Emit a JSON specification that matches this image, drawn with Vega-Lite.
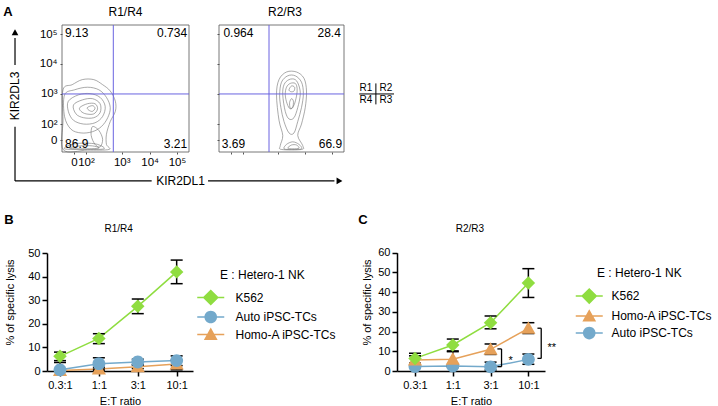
{
"$schema":"https://vega.github.io/schema/vega-lite/v6.json",
"width":718,"height":406,"padding":0,"autosize":{"type":"none"},"background":"#ffffff",
"config":{"view":{"stroke":null},"font":"Liberation Sans",
 "axis":{"grid":false,"labelFont":"Liberation Sans","titleFont":"Liberation Sans","labelColor":"#000000","titleColor":"#000000","domainColor":"#000000","tickColor":"#000000","labelFontSize":11,"titleFontSize":11,"titleFontWeight":"normal","labelFlush":false,"labelOverlap":false},
 "legend":{"labelFont":"Liberation Sans","titleFont":"Liberation Sans","labelColor":"#000000","titleColor":"#000000"},
 "text":{"font":"Liberation Sans","fontSize":11,"color":"#000000"}},
"datasets":{
 "contour1":[
  {"ring":"a","i":0,"x":0.8,"y":49},{"ring":"a","i":1,"x":8,"y":53},{"ring":"a","i":2,"x":16,"y":57},{"ring":"a","i":3,"x":25,"y":57},{"ring":"a","i":4,"x":32,"y":53},{"ring":"a","i":5,"x":38,"y":48},{"ring":"a","i":6,"x":42,"y":40},{"ring":"a","i":7,"x":42,"y":32},{"ring":"a","i":8,"x":38,"y":24},{"ring":"a","i":9,"x":35,"y":14},{"ring":"a","i":10,"x":35,"y":6},{"ring":"a","i":11,"x":37,"y":2},{"ring":"a","i":12,"x":20,"y":1.5},{"ring":"a","i":13,"x":1,"y":1.8},{"ring":"a","i":14,"x":0.8,"y":25},
  {"ring":"b","i":0,"x":2,"y":45},{"ring":"b","i":1,"x":10,"y":49},{"ring":"b","i":2,"x":20,"y":51},{"ring":"b","i":3,"x":29,"y":49},{"ring":"b","i":4,"x":35,"y":43},{"ring":"b","i":5,"x":38,"y":35},{"ring":"b","i":6,"x":36,"y":27},{"ring":"b","i":7,"x":31,"y":20},{"ring":"b","i":8,"x":24,"y":16},{"ring":"b","i":9,"x":15,"y":15},{"ring":"b","i":10,"x":7,"y":18},{"ring":"b","i":11,"x":2,"y":28},
  {"ring":"c","i":0,"x":5,"y":40},{"ring":"c","i":1,"x":13,"y":45},{"ring":"c","i":2,"x":22,"y":46},{"ring":"c","i":3,"x":30,"y":43},{"ring":"c","i":4,"x":34,"y":36},{"ring":"c","i":5,"x":32,"y":28},{"ring":"c","i":6,"x":26,"y":23},{"ring":"c","i":7,"x":17,"y":22},{"ring":"c","i":8,"x":9,"y":25},{"ring":"c","i":9,"x":5,"y":32},
  {"ring":"d","i":0,"x":9,"y":37},{"ring":"d","i":1,"x":16,"y":41},{"ring":"d","i":2,"x":24,"y":42},{"ring":"d","i":3,"x":30,"y":38},{"ring":"d","i":4,"x":30,"y":31},{"ring":"d","i":5,"x":25,"y":27},{"ring":"d","i":6,"x":17,"y":27},{"ring":"d","i":7,"x":11,"y":30},
  {"ring":"e","i":0,"x":14,"y":35},{"ring":"e","i":1,"x":20,"y":38},{"ring":"e","i":2,"x":26,"y":38},{"ring":"e","i":3,"x":28,"y":34},{"ring":"e","i":4,"x":25,"y":30},{"ring":"e","i":5,"x":19,"y":30},{"ring":"e","i":6,"x":15,"y":32},
  {"ring":"f","i":0,"x":20,"y":35},{"ring":"f","i":1,"x":24,"y":36.5},{"ring":"f","i":2,"x":26,"y":34.5},{"ring":"f","i":3,"x":24,"y":32},{"ring":"f","i":4,"x":21,"y":33},
  {"ring":"g","i":0,"x":24,"y":20},{"ring":"g","i":1,"x":29,"y":17},{"ring":"g","i":2,"x":32,"y":10},{"ring":"g","i":3,"x":30,"y":4},{"ring":"g","i":4,"x":26,"y":6},{"ring":"g","i":5,"x":23,"y":13},
  {"ring":"h","i":0,"x":2,"y":2.5},{"ring":"h","i":1,"x":8,"y":6},{"ring":"h","i":2,"x":18,"y":7},{"ring":"h","i":3,"x":28,"y":6},{"ring":"h","i":4,"x":33,"y":2.5},{"ring":"h","i":5,"x":18,"y":2},
  {"ring":"k","i":0,"x":6,"y":3},{"ring":"k","i":1,"x":14,"y":4.8},{"ring":"k","i":2,"x":24,"y":4.8},{"ring":"k","i":3,"x":29,"y":3},{"ring":"k","i":4,"x":16,"y":2.5}],
 "contour2":[
  {"ring":"a","i":0,"x":46,"y":45},{"ring":"a","i":1,"x":48,"y":57},{"ring":"a","i":2,"x":54,"y":63},{"ring":"a","i":3,"x":62,"y":63},{"ring":"a","i":4,"x":68,"y":58},{"ring":"a","i":5,"x":70,"y":48},{"ring":"a","i":6,"x":69,"y":35},{"ring":"a","i":7,"x":66,"y":22},{"ring":"a","i":8,"x":63,"y":13},{"ring":"a","i":9,"x":67,"y":5},{"ring":"a","i":10,"x":66,"y":2},{"ring":"a","i":11,"x":50,"y":2},{"ring":"a","i":12,"x":49,"y":5},{"ring":"a","i":13,"x":51,"y":13},{"ring":"a","i":14,"x":48,"y":25},
  {"ring":"b","i":0,"x":48.5,"y":45},{"ring":"b","i":1,"x":50,"y":55},{"ring":"b","i":2,"x":55,"y":60},{"ring":"b","i":3,"x":61,"y":60},{"ring":"b","i":4,"x":66,"y":55},{"ring":"b","i":5,"x":67.5,"y":46},{"ring":"b","i":6,"x":66,"y":35},{"ring":"b","i":7,"x":63,"y":24},{"ring":"b","i":8,"x":60,"y":15},{"ring":"b","i":9,"x":56,"y":15},{"ring":"b","i":10,"x":52,"y":24},{"ring":"b","i":11,"x":49.5,"y":35},
  {"ring":"c","i":0,"x":51,"y":45},{"ring":"c","i":1,"x":52,"y":53},{"ring":"c","i":2,"x":56,"y":57},{"ring":"c","i":3,"x":61,"y":57},{"ring":"c","i":4,"x":64,"y":52},{"ring":"c","i":5,"x":65,"y":45},{"ring":"c","i":6,"x":63,"y":35},{"ring":"c","i":7,"x":60,"y":27},{"ring":"c","i":8,"x":56,"y":26},{"ring":"c","i":9,"x":53,"y":32},
  {"ring":"d","i":0,"x":53,"y":45},{"ring":"d","i":1,"x":54,"y":51},{"ring":"d","i":2,"x":57,"y":54},{"ring":"d","i":3,"x":61,"y":54},{"ring":"d","i":4,"x":62.5,"y":50},{"ring":"d","i":5,"x":62,"y":44},{"ring":"d","i":6,"x":60,"y":37},{"ring":"d","i":7,"x":57,"y":34},{"ring":"d","i":8,"x":54.5,"y":38},
  {"ring":"e","i":0,"x":56,"y":49},{"ring":"e","i":1,"x":58,"y":52},{"ring":"e","i":2,"x":60.5,"y":51},{"ring":"e","i":3,"x":60,"y":48},{"ring":"e","i":4,"x":57.5,"y":47.5},
  {"ring":"f","i":0,"x":56.5,"y":39},{"ring":"f","i":1,"x":58,"y":42},{"ring":"f","i":2,"x":59.5,"y":40},{"ring":"f","i":3,"x":59,"y":35},{"ring":"f","i":4,"x":57,"y":34.5},
  {"ring":"g","i":0,"x":52,"y":2.5},{"ring":"g","i":1,"x":54,"y":6},{"ring":"g","i":2,"x":59,"y":8},{"ring":"g","i":3,"x":64,"y":6},{"ring":"g","i":4,"x":66,"y":2.5},{"ring":"g","i":5,"x":58,"y":2},
  {"ring":"h","i":0,"x":55,"y":3},{"ring":"h","i":1,"x":58,"y":5.5},{"ring":"h","i":2,"x":62,"y":5.5},{"ring":"h","i":3,"x":64,"y":3},{"ring":"h","i":4,"x":59,"y":2.5}],
 "gate1":[{"xg":40.4,"yg":45.7}],
 "gate2":[{"xg":40.0,"yg":45.7}],
 "quad1":[{"pct":"9.13","x":2.4,"y":93.5},{"pct":"0.734","x":98.5,"y":93.5},{"pct":"86.9","x":2.4,"y":6.3},{"pct":"3.21","x":98.5,"y":6.3}],
 "quad2":[{"pct":"0.964","x":3.5,"y":94},{"pct":"28.4","x":97.5,"y":94},{"pct":"3.69","x":2.2,"y":6.3},{"pct":"66.9","x":98.5,"y":6.3}],
 "lysB":[
  {"target":"Homo-A iPSC-TCs","ratio":"0.3:1","idx":0,"mean":0.2,"lo":0,"hi":0.8},
  {"target":"Homo-A iPSC-TCs","ratio":"1:1","idx":1,"mean":0.8,"lo":0.1,"hi":1.6},
  {"target":"Homo-A iPSC-TCs","ratio":"3:1","idx":2,"mean":1.8,"lo":1.0,"hi":2.6},
  {"target":"Homo-A iPSC-TCs","ratio":"10:1","idx":3,"mean":3.0,"lo":0.5,"hi":4.6},
  {"target":"Auto iPSC-TCs","ratio":"0.3:1","idx":0,"mean":0.5,"lo":0,"hi":3.6},
  {"target":"Auto iPSC-TCs","ratio":"1:1","idx":1,"mean":3.1,"lo":0.8,"hi":5.6},
  {"target":"Auto iPSC-TCs","ratio":"3:1","idx":2,"mean":3.8,"lo":2.6,"hi":5.0},
  {"target":"Auto iPSC-TCs","ratio":"10:1","idx":3,"mean":4.4,"lo":2.3,"hi":6.4},
  {"target":"K562","ratio":"0.3:1","idx":0,"mean":6.2,"lo":4.4,"hi":8.0},
  {"target":"K562","ratio":"1:1","idx":1,"mean":13.8,"lo":11.6,"hi":15.8},
  {"target":"K562","ratio":"3:1","idx":2,"mean":27.4,"lo":24.3,"hi":30.5},
  {"target":"K562","ratio":"10:1","idx":3,"mean":42.0,"lo":37.0,"hi":47.0}],
 "lysC":[
  {"target":"Auto iPSC-TCs","ratio":"0.3:1","idx":0,"mean":2.3,"lo":1.5,"hi":3.0},
  {"target":"Auto iPSC-TCs","ratio":"1:1","idx":1,"mean":2.5,"lo":1.8,"hi":3.2},
  {"target":"Auto iPSC-TCs","ratio":"3:1","idx":2,"mean":2.1,"lo":0.5,"hi":4.5},
  {"target":"Auto iPSC-TCs","ratio":"10:1","idx":3,"mean":5.9,"lo":3.4,"hi":8.6},
  {"target":"Homo-A iPSC-TCs","ratio":"0.3:1","idx":0,"mean":5.6,"lo":3.5,"hi":7.7},
  {"target":"Homo-A iPSC-TCs","ratio":"1:1","idx":1,"mean":6.0,"lo":2.5,"hi":9.8},
  {"target":"Homo-A iPSC-TCs","ratio":"3:1","idx":2,"mean":11.0,"lo":8.4,"hi":13.7},
  {"target":"Homo-A iPSC-TCs","ratio":"10:1","idx":3,"mean":21.6,"lo":19.0,"hi":24.5},
  {"target":"K562","ratio":"0.3:1","idx":0,"mean":6.4,"lo":4.0,"hi":9.0},
  {"target":"K562","ratio":"1:1","idx":1,"mean":13.2,"lo":10.2,"hi":16.2},
  {"target":"K562","ratio":"3:1","idx":2,"mean":24.5,"lo":21.4,"hi":27.9},
  {"target":"K562","ratio":"10:1","idx":3,"mean":44.6,"lo":37.3,"hi":51.9}],
 "sigC":[{"sig":"*","xb":2.29,"xs":2.18,"ylo":2.2,"yhi":11.2,"xt":2.53,"yt":5.0},{"sig":"**","xb":3.34,"xs":3.24,"ylo":6.4,"yhi":21.7,"xt":3.62,"yt":11.7}]
},
"layer":[
 {"layer":[
  {"data":{"name":"contour1"},"mark":{"type":"line","interpolate":"cardinal-closed","stroke":"#707070","strokeWidth":0.6},
   "encoding":{
    "x":{"field":"x","type":"quantitative","scale":{"domain":[0,100],"range":[62,189],"nice":false,"zero":false},
     "axis":{"orient":"bottom","offset":-254,"values":[9.4,18.9,47,69,90.5],"labelExpr":"datum.value < 12 ? '0' : datum.value < 30 ? '10²' : datum.value < 55 ? '10³' : datum.value < 80 ? '10⁴' : '10⁵'","domain":false,"tickSize":2,"tickColor":"#555555","labelPadding":2,"labelFontSize":11.5,"title":null}},
    "y":{"field":"y","type":"quantitative","scale":{"domain":[0,100],"range":[152,25],"nice":false,"zero":false},
     "axis":{"orient":"left","offset":-62,"values":[9.4,22,45.7,69.3,92.9],"labelExpr":"datum.value < 12 ? '0' : datum.value < 30 ? '10²' : datum.value < 55 ? '10³' : datum.value < 80 ? '10⁴' : '10⁵'","domain":false,"tickSize":2,"tickColor":"#555555","labelPadding":3,"labelFontSize":11.5,"title":null}},
    "detail":{"field":"ring","type":"nominal"},
    "order":{"field":"i","type":"quantitative"}}},
  {"data":{"values":[{}]},"mark":{"type":"rect","filled":false,"stroke":"#555555","strokeWidth":0.8},
   "encoding":{"x":{"datum":0,"type":"quantitative"},"x2":{"datum":100},"y":{"datum":0,"type":"quantitative"},"y2":{"datum":100}}},
  {"data":{"name":"gate1"},"mark":{"type":"rule","color":"#6a63e0","strokeWidth":1},
   "encoding":{"x":{"field":"xg","type":"quantitative"},"y":{"datum":0,"type":"quantitative"},"y2":{"datum":100}}},
  {"data":{"name":"gate1"},"mark":{"type":"rule","color":"#6a63e0","strokeWidth":1},
   "encoding":{"y":{"field":"yg","type":"quantitative"},"x":{"datum":0,"type":"quantitative"},"x2":{"datum":100}}},
  {"data":{"name":"quad1"},"transform":[{"filter":"datum.x < 50"}],"mark":{"type":"text","align":"left","fontSize":12},
   "encoding":{"x":{"field":"x","type":"quantitative"},"y":{"field":"y","type":"quantitative"},"text":{"field":"pct"}}},
  {"data":{"name":"quad1"},"transform":[{"filter":"datum.x > 50"}],"mark":{"type":"text","align":"right","fontSize":12},
   "encoding":{"x":{"field":"x","type":"quantitative"},"y":{"field":"y","type":"quantitative"},"text":{"field":"pct"}}},
  {"data":{"values":[{}]},"mark":{"type":"text","fontSize":12},
   "encoding":{"x":{"datum":50,"type":"quantitative"},"y":{"datum":110,"type":"quantitative"},"text":{"value":"R1/R4"}}},
  {"data":{"values":[{}]},"mark":{"type":"text","fontSize":13,"fontWeight":"bold"},
   "encoding":{"x":{"datum":-42.5,"type":"quantitative"},"y":{"datum":110,"type":"quantitative"},"text":{"value":"A"}}},
  {"data":{"values":[{}]},"mark":{"type":"rule","color":"#000000","strokeWidth":1.2},
   "encoding":{"x":{"datum":-37,"type":"quantitative"},"y":{"datum":68.5,"type":"quantitative"},"y2":{"datum":89.8}}},
  {"data":{"values":[{}]},"mark":{"type":"rule","color":"#000000","strokeWidth":1.2},
   "encoding":{"x":{"datum":-37,"type":"quantitative"},"y":{"datum":-22.8,"type":"quantitative"},"y2":{"datum":19.9}}},
  {"data":{"values":[{}]},"mark":{"type":"rule","color":"#000000","strokeWidth":1.2},
   "encoding":{"y":{"datum":-22.8,"type":"quantitative"},"x":{"datum":-37,"type":"quantitative"},"x2":{"datum":70.6}}},
  {"data":{"values":[{}]},"mark":{"type":"rule","color":"#000000","strokeWidth":1.2},
   "encoding":{"y":{"datum":-22.8,"type":"quantitative"},"x":{"datum":115,"type":"quantitative"},"x2":{"datum":214.5}}},
  {"data":{"values":[{}]},"mark":{"type":"point","shape":"triangle-up","filled":true,"color":"#000000","opacity":1,"size":45},
   "encoding":{"x":{"datum":-37,"type":"quantitative"},"y":{"datum":94.3,"type":"quantitative"}}},
  {"data":{"values":[{}]},"mark":{"type":"point","shape":"triangle-right","filled":true,"color":"#000000","opacity":1,"size":45},
   "encoding":{"x":{"datum":218.5,"type":"quantitative"},"y":{"datum":-22.8,"type":"quantitative"}}},
  {"data":{"values":[{}]},"mark":{"type":"text","fontSize":12,"angle":270},
   "encoding":{"x":{"datum":-37,"type":"quantitative"},"y":{"datum":44.1,"type":"quantitative"},"text":{"value":"KIR2DL3"}}},
  {"data":{"values":[{}]},"mark":{"type":"text","fontSize":12},
   "encoding":{"x":{"datum":93.3,"type":"quantitative"},"y":{"datum":-22.8,"type":"quantitative"},"text":{"value":"KIR2DL1"}}}
 ]},
 {"layer":[
  {"data":{"name":"contour2"},"mark":{"type":"line","interpolate":"cardinal-closed","stroke":"#707070","strokeWidth":0.6},
   "encoding":{
    "x":{"field":"x","type":"quantitative","scale":{"domain":[0,100],"range":[219,344],"nice":false,"zero":false},
     "axis":{"orient":"bottom","offset":-254,"values":[9.4,18.9,47,69,90.5],"labels":false,"domain":false,"tickSize":2,"tickColor":"#555555","title":null}},
    "y":{"field":"y","type":"quantitative","scale":{"domain":[0,100],"range":[152,25],"nice":false,"zero":false},
     "axis":{"orient":"left","offset":-219,"values":[9.4,22,45.7,69.3,92.9],"labels":false,"domain":false,"tickSize":2,"tickColor":"#555555","title":null}},
    "detail":{"field":"ring","type":"nominal"},
    "order":{"field":"i","type":"quantitative"}}},
  {"data":{"values":[{}]},"mark":{"type":"rect","filled":false,"stroke":"#555555","strokeWidth":0.8},
   "encoding":{"x":{"datum":0,"type":"quantitative"},"x2":{"datum":100},"y":{"datum":0,"type":"quantitative"},"y2":{"datum":100}}},
  {"data":{"name":"gate2"},"mark":{"type":"rule","color":"#6a63e0","strokeWidth":1},
   "encoding":{"x":{"field":"xg","type":"quantitative"},"y":{"datum":0,"type":"quantitative"},"y2":{"datum":100}}},
  {"data":{"name":"gate2"},"mark":{"type":"rule","color":"#6a63e0","strokeWidth":1},
   "encoding":{"y":{"field":"yg","type":"quantitative"},"x":{"datum":0,"type":"quantitative"},"x2":{"datum":100}}},
  {"data":{"name":"quad2"},"transform":[{"filter":"datum.x < 50"}],"mark":{"type":"text","align":"left","fontSize":12},
   "encoding":{"x":{"field":"x","type":"quantitative"},"y":{"field":"y","type":"quantitative"},"text":{"field":"pct"}}},
  {"data":{"name":"quad2"},"transform":[{"filter":"datum.x > 50"}],"mark":{"type":"text","align":"right","fontSize":12},
   "encoding":{"x":{"field":"x","type":"quantitative"},"y":{"field":"y","type":"quantitative"},"text":{"field":"pct"}}},
  {"data":{"values":[{}]},"mark":{"type":"text","fontSize":12},
   "encoding":{"x":{"datum":52.8,"type":"quantitative"},"y":{"datum":110,"type":"quantitative"},"text":{"value":"R2/R3"}}},
  {"data":{"values":[{}]},"mark":{"type":"text","fontSize":10},
   "encoding":{"x":{"datum":117.5,"type":"quantitative"},"y":{"datum":50.2,"type":"quantitative"},"text":{"value":"R1"}}},
  {"data":{"values":[{}]},"mark":{"type":"text","fontSize":10},
   "encoding":{"x":{"datum":133.5,"type":"quantitative"},"y":{"datum":50.2,"type":"quantitative"},"text":{"value":"R2"}}},
  {"data":{"values":[{}]},"mark":{"type":"text","fontSize":10},
   "encoding":{"x":{"datum":117.5,"type":"quantitative"},"y":{"datum":40.9,"type":"quantitative"},"text":{"value":"R4"}}},
  {"data":{"values":[{}]},"mark":{"type":"text","fontSize":10},
   "encoding":{"x":{"datum":133.5,"type":"quantitative"},"y":{"datum":40.9,"type":"quantitative"},"text":{"value":"R3"}}},
  {"data":{"values":[{}]},"mark":{"type":"rule","color":"#000000","strokeWidth":1},
   "encoding":{"x":{"datum":125.5,"type":"quantitative"},"y":{"datum":37.5,"type":"quantitative"},"y2":{"datum":54}}},
  {"data":{"values":[{}]},"mark":{"type":"rule","color":"#000000","strokeWidth":1},
   "encoding":{"y":{"datum":45.7,"type":"quantitative"},"x":{"datum":112.2,"type":"quantitative"},"x2":{"datum":140}}}
 ]},
 {"layer":[
  {"data":{"name":"lysB"},"mark":{"type":"line","strokeWidth":1.5},
   "encoding":{
    "x":{"field":"idx","type":"quantitative","scale":{"domain":[-0.334,3.42],"range":[47,193],"nice":false,"zero":false},
     "axis":{"orient":"bottom","offset":-35,"values":[0,1,2,3],"labelExpr":"['0.3:1','1:1','3:1','10:1'][datum.value]","title":"E:T ratio","tickSize":5,"labelPadding":3,"titlePadding":5,"domainWidth":1.5,"tickWidth":1.5}},
    "y":{"field":"mean","type":"quantitative","scale":{"domain":[0,50],"range":[371,253],"nice":false,"zero":false},
     "axis":{"orient":"left","offset":-47,"values":[0,10,20,30,40,50],"title":"% of specific lysis","tickSize":5,"labelPadding":2,"domainWidth":1.5,"tickWidth":1.5,"titleAngle":270,"titleAlign":"center","titleBaseline":"middle","titleX":-37,"titleY":302}},
    "stroke":{"field":"target","type":"nominal","scale":{"domain":["K562","Auto iPSC-TCs","Homo-A iPSC-TCs"],"range":["#8fdd40","#73a9cb","#e6a15a"]},
     "legend":{"orient":"none","legendX":204.75,"legendY":269.5,"title":"E : Hetero-1 NK","titleFontSize":12,"titleFontWeight":"normal","labelFontSize":12,"symbolSize":144,"symbolStrokeWidth":0,"symbolOpacity":1,"labelOffset":18.75,"titlePadding":10,"rowPadding":3.5,"padding":0,"titleAnchor":"start",
      "encoding":{"title":{"dx":{"value":15.25}}}}}}},
  {"data":{"name":"lysB"},"mark":{"type":"rule","color":"#000000","strokeWidth":1.5},
   "encoding":{"x":{"field":"idx","type":"quantitative"},"y":{"field":"lo","type":"quantitative"},"y2":{"field":"hi"}}},
  {"data":{"name":"lysB"},"mark":{"type":"tick","orient":"horizontal","color":"#000000","size":12,"thickness":1.5,"opacity":1},
   "encoding":{"x":{"field":"idx","type":"quantitative"},"y":{"field":"hi","type":"quantitative"}}},
  {"data":{"name":"lysB"},"mark":{"type":"tick","orient":"horizontal","color":"#000000","size":12,"thickness":1.5,"opacity":1},
   "encoding":{"x":{"field":"idx","type":"quantitative"},"y":{"field":"lo","type":"quantitative"}}},
  {"data":{"name":"lysB"},"mark":{"type":"point","filled":true,"opacity":0,"size":165},
   "encoding":{"x":{"field":"idx","type":"quantitative"},"y":{"field":"mean","type":"quantitative"},
    "fill":{"field":"target","type":"nominal","scale":{"domain":["K562","Auto iPSC-TCs","Homo-A iPSC-TCs"],"range":["#8fdd40","#73a9cb","#e6a15a"]}},
    "shape":{"field":"target","type":"nominal","scale":{"domain":["K562","Auto iPSC-TCs","Homo-A iPSC-TCs"],"range":["M-2.25,-0.125H2.25V0.125H-2.25ZM0,-1.35L1.35,0L0,1.35L-1.35,0Z","M-2.25,-0.125H2.25V0.125H-2.25ZM1.05,0A1.05,1.05,0,1,1,-1.05,0A1.05,1.05,0,1,1,1.05,0Z","M-2.25,-0.125H2.25V0.125H-2.25ZM0,-1.15L1.15,0.9L-1.15,0.9Z"]},"legend":{"symbolFillColor":"#000000","symbolOpacity":1}}}},
  {"data":{"name":"lysB"},"transform":[{"filter":"datum.target === 'Homo-A iPSC-TCs'"}],"mark":{"type":"point","filled":true,"opacity":1,"size":165,"shape":"M0,-1.1L1.1,0.85L-1.1,0.85Z"},
   "encoding":{"x":{"field":"idx","type":"quantitative"},"y":{"field":"mean","type":"quantitative"},"fill":{"field":"target","type":"nominal"}}},
  {"data":{"name":"lysB"},"transform":[{"filter":"datum.target === 'Auto iPSC-TCs'"}],"mark":{"type":"point","filled":true,"opacity":1,"size":165,"shape":"M1,0A1,1,0,1,1,-1,0A1,1,0,1,1,1,0Z"},
   "encoding":{"x":{"field":"idx","type":"quantitative"},"y":{"field":"mean","type":"quantitative"},"fill":{"field":"target","type":"nominal"}}},
  {"data":{"name":"lysB"},"transform":[{"filter":"datum.target === 'K562'"}],"mark":{"type":"point","filled":true,"opacity":1,"size":165,"shape":"M0,-1.05L1.05,0L0,1.05L-1.05,0Z"},
   "encoding":{"x":{"field":"idx","type":"quantitative"},"y":{"field":"mean","type":"quantitative"},"fill":{"field":"target","type":"nominal"}}},
  {"data":{"values":[{}]},"mark":{"type":"text","fontSize":10},
   "encoding":{"x":{"datum":1.51,"type":"quantitative"},"y":{"datum":60.2,"type":"quantitative"},"text":{"value":"R1/R4"}}},
  {"data":{"values":[{}]},"mark":{"type":"text","fontSize":13,"fontWeight":"bold"},
   "encoding":{"x":{"datum":-1.31,"type":"quantitative"},"y":{"datum":64,"type":"quantitative"},"text":{"value":"B"}}}
 ]},
 {"layer":[
  {"data":{"name":"lysC"},"mark":{"type":"line","strokeWidth":1.5},
   "encoding":{
    "x":{"field":"idx","type":"quantitative","scale":{"domain":[-0.476,3.44],"range":[397,545],"nice":false,"zero":false},
     "axis":{"orient":"bottom","offset":-35,"values":[0,1,2,3],"labelExpr":"['0.3:1','1:1','3:1','10:1'][datum.value]","title":"E:T ratio","tickSize":5,"labelPadding":3,"titlePadding":5,"domainWidth":1.5,"tickWidth":1.5}},
    "y":{"field":"mean","type":"quantitative","scale":{"domain":[0,60],"range":[371,252.7],"nice":false,"zero":false},
     "axis":{"orient":"left","offset":-397,"values":[0,10,20,30,40,50,60],"title":"% of specific lysis","tickSize":5,"labelPadding":2,"domainWidth":1.5,"tickWidth":1.5,"titleAngle":270,"titleAlign":"center","titleBaseline":"middle","titleX":-30,"titleY":302}},
    "stroke":{"field":"target","type":"nominal","scale":{"domain":["K562","Homo-A iPSC-TCs","Auto iPSC-TCs"],"range":["#8fdd40","#e6a15a","#73a9cb"]},
     "legend":{"orient":"none","legendX":583.25,"legendY":268.1,"title":"E : Hetero-1 NK","titleFontSize":12,"titleFontWeight":"normal","labelFontSize":12,"symbolSize":144,"symbolStrokeWidth":0,"symbolOpacity":1,"labelOffset":16.25,"titlePadding":10,"rowPadding":4,"padding":0,"titleAnchor":"start",
      "encoding":{"title":{"dx":{"value":13.75}}}}}}},
  {"data":{"name":"lysC"},"mark":{"type":"rule","color":"#000000","strokeWidth":1.5},
   "encoding":{"x":{"field":"idx","type":"quantitative"},"y":{"field":"lo","type":"quantitative"},"y2":{"field":"hi"}}},
  {"data":{"name":"lysC"},"mark":{"type":"tick","orient":"horizontal","color":"#000000","size":12,"thickness":1.5,"opacity":1},
   "encoding":{"x":{"field":"idx","type":"quantitative"},"y":{"field":"hi","type":"quantitative"}}},
  {"data":{"name":"lysC"},"mark":{"type":"tick","orient":"horizontal","color":"#000000","size":12,"thickness":1.5,"opacity":1},
   "encoding":{"x":{"field":"idx","type":"quantitative"},"y":{"field":"lo","type":"quantitative"}}},
  {"data":{"name":"lysC"},"mark":{"type":"point","filled":true,"opacity":0,"size":165},
   "encoding":{"x":{"field":"idx","type":"quantitative"},"y":{"field":"mean","type":"quantitative"},
    "fill":{"field":"target","type":"nominal","scale":{"domain":["K562","Homo-A iPSC-TCs","Auto iPSC-TCs"],"range":["#8fdd40","#e6a15a","#73a9cb"]}},
    "shape":{"field":"target","type":"nominal","scale":{"domain":["K562","Homo-A iPSC-TCs","Auto iPSC-TCs"],"range":["M-2.25,-0.125H2.25V0.125H-2.25ZM0,-1.35L1.35,0L0,1.35L-1.35,0Z","M-2.25,-0.125H2.25V0.125H-2.25ZM0,-1.15L1.15,0.9L-1.15,0.9Z","M-2.25,-0.125H2.25V0.125H-2.25ZM1.05,0A1.05,1.05,0,1,1,-1.05,0A1.05,1.05,0,1,1,1.05,0Z"]},"legend":{"symbolFillColor":"#000000","symbolOpacity":1}}}},
  {"data":{"name":"lysC"},"transform":[{"filter":"datum.target === 'Auto iPSC-TCs'"}],"mark":{"type":"point","filled":true,"opacity":1,"size":165,"shape":"M1,0A1,1,0,1,1,-1,0A1,1,0,1,1,1,0Z"},
   "encoding":{"x":{"field":"idx","type":"quantitative"},"y":{"field":"mean","type":"quantitative"},"fill":{"field":"target","type":"nominal"}}},
  {"data":{"name":"lysC"},"transform":[{"filter":"datum.target === 'Homo-A iPSC-TCs'"}],"mark":{"type":"point","filled":true,"opacity":1,"size":165,"shape":"M0,-1.1L1.1,0.85L-1.1,0.85Z"},
   "encoding":{"x":{"field":"idx","type":"quantitative"},"y":{"field":"mean","type":"quantitative"},"fill":{"field":"target","type":"nominal"}}},
  {"data":{"name":"lysC"},"transform":[{"filter":"datum.target === 'K562'"}],"mark":{"type":"point","filled":true,"opacity":1,"size":165,"shape":"M0,-1.05L1.05,0L0,1.05L-1.05,0Z"},
   "encoding":{"x":{"field":"idx","type":"quantitative"},"y":{"field":"mean","type":"quantitative"},"fill":{"field":"target","type":"nominal"}}},
  {"data":{"name":"sigC"},"mark":{"type":"rule","color":"#000000","strokeWidth":1.3},
   "encoding":{"x":{"field":"xb","type":"quantitative"},"y":{"field":"ylo","type":"quantitative"},"y2":{"field":"yhi"}}},
  {"data":{"name":"sigC"},"mark":{"type":"rule","color":"#000000","strokeWidth":1.3},
   "encoding":{"x":{"field":"xs","type":"quantitative"},"x2":{"field":"xb"},"y":{"field":"yhi","type":"quantitative"}}},
  {"data":{"name":"sigC"},"mark":{"type":"rule","color":"#000000","strokeWidth":1.3},
   "encoding":{"x":{"field":"xs","type":"quantitative"},"x2":{"field":"xb"},"y":{"field":"ylo","type":"quantitative"}}},
  {"data":{"name":"sigC"},"mark":{"type":"text","fontSize":11},
   "encoding":{"x":{"field":"xt","type":"quantitative"},"y":{"field":"yt","type":"quantitative"},"text":{"field":"sig"}}},
  {"data":{"values":[{}]},"mark":{"type":"text","fontSize":10},
   "encoding":{"x":{"datum":1.455,"type":"quantitative"},"y":{"datum":71.9,"type":"quantitative"},"text":{"value":"R2/R3"}}},
  {"data":{"values":[{}]},"mark":{"type":"text","fontSize":13,"fontWeight":"bold"},
   "encoding":{"x":{"datum":-1.38,"type":"quantitative"},"y":{"datum":76.6,"type":"quantitative"},"text":{"value":"C"}}}
 ]}
],
"resolve":{"scale":{"x":"independent","y":"independent","stroke":"independent","fill":"independent","shape":"independent"},
 "axis":{"x":"independent","y":"independent"},
 "legend":{"stroke":"independent","fill":"independent","shape":"independent"}}
}
